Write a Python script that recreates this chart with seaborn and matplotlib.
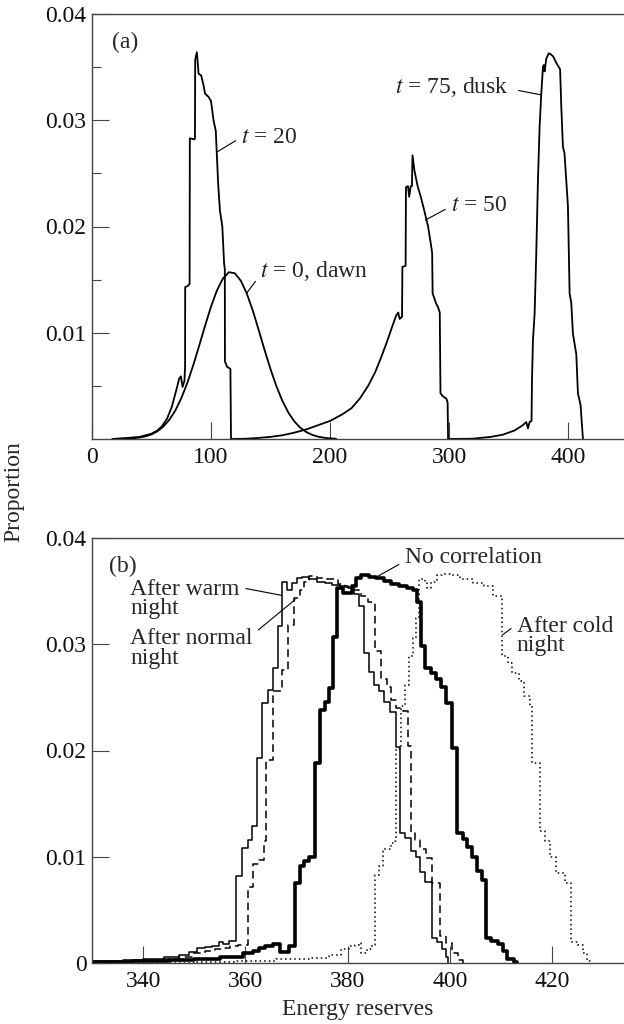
import matplotlib
matplotlib.use("Agg")
import matplotlib.pyplot as plt
import seaborn as sns
import pandas as pd

# ---------------- data: panel (a) ----------------
dawn_x = [20, 25, 30, 35, 40, 45, 50, 55, 60, 65, 70, 75, 80, 85, 90, 95, 100, 105, 110, 115,
          120, 125, 130, 135, 140, 145, 150, 155, 160, 165, 170, 175, 180, 185, 190, 195, 200, 205]
dawn_y = [0.00001, 0.00002, 0.00004, 0.00007, 0.00014, 0.00025, 0.00043, 0.00073, 0.00117, 0.00181,
          0.00268, 0.00383, 0.00525, 0.00692, 0.00876, 0.01066, 0.01246, 0.01399, 0.01510, 0.01570,
          0.01560, 0.01490, 0.01371, 0.01212, 0.01028, 0.00838, 0.00657, 0.00495, 0.00358, 0.00249,
          0.00166, 0.00106, 0.00066, 0.00039, 0.00022, 0.00012, 0.00006, 0.00003]

t20_x = [17, 30, 40, 50, 55, 58.7, 63, 67, 71.3, 73.3, 74.7, 76.1, 77.7, 78.2, 78.3, 80.5, 82.0,
         82.2, 86.2, 86.5, 86.7, 88.1, 89.0, 89.5, 91.8, 93.7, 95.0, 97.9, 100.0, 102.1, 104.0,
         104.8, 106.0, 107.5, 109.5, 111.0, 111.6, 111.7, 113.5, 116.3, 116.8]
t20_y = [0.0, 0.0001, 0.0002, 0.0005, 0.0008, 0.0012, 0.0019, 0.0030, 0.0048, 0.0057, 0.0059,
         0.0049, 0.0055, 0.0068, 0.0143, 0.0144, 0.0146, 0.0283, 0.0282, 0.0283, 0.0357, 0.0364,
         0.0352, 0.0344, 0.0342, 0.0333, 0.0325, 0.0322, 0.0318, 0.0300, 0.0290, 0.0270, 0.0240,
         0.0215, 0.0200, 0.0165, 0.0160, 0.0073, 0.0068, 0.0066, 0.0]

t50_x = [117, 130, 140, 150, 160, 170, 180, 190, 200, 210, 218, 225, 232, 238, 243, 248, 252,
         255.5, 257.3, 258.5, 260.5, 260.8, 263.5, 263.8, 265.5, 266.5, 267.8, 268.8, 269.3, 271.0,
         273.8, 276.0, 278.3, 282.4, 284.5, 285.8, 286.2, 289.0, 290.8, 292.2, 292.8, 295.0, 297.8,
         298.8, 299.2]
t50_y = [0.0, 0.00003, 0.0001, 0.0002, 0.00035, 0.0006, 0.0009, 0.0013, 0.0017, 0.0023, 0.0029,
         0.0038, 0.0050, 0.0063, 0.0077, 0.0092, 0.0105, 0.0116, 0.0119, 0.0113, 0.0115, 0.0162,
         0.0163, 0.0237, 0.0238, 0.0228, 0.0238, 0.0238, 0.0267, 0.0252, 0.0237, 0.0229, 0.0219,
         0.0200, 0.0185, 0.0175, 0.0137, 0.0128, 0.0124, 0.0119, 0.0043, 0.0040, 0.0038, 0.0034, 0.0]

t75_x = [299.2, 320, 335, 345, 355, 362, 364.9, 366.3, 367.7, 369.3, 369.7, 370.5, 371.9, 373.3,
         374.7, 376.1, 377.5, 378.9, 379.6, 380.3, 381.7, 383.8, 385.5, 387.5, 390.1, 393.3, 394.3,
         395.7, 397.0, 399.9, 401.3, 402.7, 404.1, 406.9, 408.3, 410.5, 412.5]
t75_y = [0.0, 0.00003, 0.0002, 0.0004, 0.0008, 0.0013, 0.0016, 0.0010, 0.0016, 0.0017, 0.0056,
         0.0093, 0.0118, 0.0175, 0.0244, 0.0294, 0.0325, 0.0350, 0.0352, 0.0346, 0.0358, 0.0363,
         0.0362, 0.0360, 0.0354, 0.0348, 0.0313, 0.0275, 0.0269, 0.0219, 0.0137, 0.0128, 0.0099,
         0.0080, 0.0043, 0.0032, 0.0]

# ---------------- data: panel (b) (step histograms, left bin edge -> height) ----------------
warm_x = [330, 336, 340, 344, 347, 349, 350.5, 352, 353.5, 354.8, 355.7, 356.8, 358.2, 359.3,
          360.4, 361.3, 362.3, 363.3, 364.4, 365.4, 366.3, 367.2, 368.1, 369.1, 370.0, 371.0,
          372.5, 374.0, 375.5, 377.0, 378.5, 380.0, 381.2, 382.2, 383.2, 384.1, 385.2, 386.2,
          387.1, 388.3, 389.5, 390.2, 391.2, 392.3, 393.3, 394.2, 395.0, 396.5, 397.5, 398.4,
          399.2, 399.6]
warm_y = [0.0002, 0.0003, 0.0004, 0.0006, 0.0008, 0.0010, 0.0014, 0.0015, 0.0016, 0.0020, 0.0018,
          0.0021, 0.0082, 0.0108, 0.0116, 0.0129, 0.0193, 0.0245, 0.0257, 0.0278, 0.0317, 0.0359,
          0.0351, 0.0358, 0.0362, 0.0363, 0.0361, 0.0359, 0.0358, 0.0356, 0.0355, 0.0353, 0.0347,
          0.0336, 0.0292, 0.0274, 0.0262, 0.0256, 0.0246, 0.0236, 0.0203, 0.0122, 0.0118, 0.0105,
          0.0100, 0.0086, 0.0076, 0.0024, 0.0020, 0.0013, 0.0006, 0.0]

normal_x = [330, 338, 343, 347, 349.5, 352, 354, 355.5, 357, 358.5, 360.5, 361.4, 362.6, 363.6,
            364.0, 365.4, 367.2, 368.3, 369.5, 370.6, 371.5, 372.4, 374.0, 376.0, 378.0, 379.5,
            381.0, 382.5, 384.0, 385.3, 386.4, 387.6, 388.5, 389.5, 390.7, 391.8, 392.3, 393.2,
            394.2, 395.3, 396.5, 398.1, 399.3, 400.4, 401.5, 402.5]
normal_y = [0.0001, 0.0002, 0.0004, 0.0006, 0.0009, 0.0011, 0.0013, 0.0014, 0.0016, 0.0017,
            0.0072, 0.0093, 0.0097, 0.0115, 0.0191, 0.0256, 0.0276, 0.0318, 0.0344, 0.0351, 0.0359,
            0.0364, 0.0362, 0.0361, 0.0357, 0.0354, 0.0351, 0.0345, 0.0340, 0.0294, 0.0267, 0.0260,
            0.0248, 0.0240, 0.0237, 0.0204, 0.0122, 0.0116, 0.0107, 0.0099, 0.0075, 0.0025, 0.0019,
            0.0009, 0.0003, 0.0]

nocorr_x = [330, 338, 345, 350, 355, 359.5, 361.5, 362.6, 363.8, 365.3, 366.8, 368.6, 369.6,
            370.6, 371.5, 372.4, 373.5, 374.6, 375.5, 376.3, 377.1, 377.9, 379.0, 380.8, 381.6,
            382.5, 384.2, 385.5, 387.0, 388.5, 390.0, 391.5, 392.7, 393.5, 394.3, 395.0, 396.2,
            397.3, 398.2, 399.2, 400.4, 401.3, 402.5, 403.4, 404.3, 405.2, 406.2, 407.0, 408.0,
            409.3, 410.4, 411.2, 412.4, 413.0]
nocorr_y = [0.0001, 0.0002, 0.0003, 0.0004, 0.0006, 0.0009, 0.0011, 0.0014, 0.0016, 0.0018,
            0.0010, 0.0016, 0.0075, 0.0091, 0.0096, 0.0100, 0.0188, 0.0238, 0.0246, 0.0259, 0.0307,
            0.0353, 0.0348, 0.0355, 0.0362, 0.0365, 0.0363, 0.0362, 0.0360, 0.0357, 0.0355, 0.0353,
            0.0351, 0.0340, 0.0298, 0.0278, 0.0273, 0.0267, 0.0260, 0.0245, 0.0202, 0.0122, 0.0117,
            0.0109, 0.0100, 0.0087, 0.0078, 0.0024, 0.0021, 0.0018, 0.0011, 0.0004, 0.0001, 0.0]

cold_x = [330, 350, 358, 366, 373, 376.3, 378.6, 380.2, 381.4, 382.2, 382.6, 383.7, 384.8, 385.3,
          386.1, 386.8, 388.4, 389.2, 389.5, 390.4, 391.1, 391.9, 392.7, 393.3, 393.9, 395.0, 395.4,
          396.2, 397.4, 398.5, 400.0, 402.0, 404.4, 406.7, 408.3, 410.2, 411.4, 412.2, 413.4, 414.5,
          415.7, 416.1, 417.5, 418.5, 419.6, 420.8, 422.4, 423.7, 425.1, 425.9, 426.7, 427.3]
cold_y = [0.0, 0.0001, 0.0002, 0.0004, 0.0005, 0.0008, 0.0013, 0.0016, 0.0017, 0.0019, 0.0009,
          0.0013, 0.0017, 0.0083, 0.0091, 0.0107, 0.0113, 0.0115, 0.0201, 0.0242, 0.0262, 0.0289,
          0.0306, 0.0325, 0.0361, 0.0359, 0.0353, 0.0359, 0.0365, 0.0366, 0.0365, 0.0361, 0.0358,
          0.0355, 0.0345, 0.0289, 0.0282, 0.0273, 0.0265, 0.0251, 0.0242, 0.0188, 0.0124, 0.0115,
          0.0100, 0.0085, 0.0075, 0.0020, 0.0017, 0.0009, 0.0002, 0.0]

top_xticks = [0, 100, 200, 300, 400]
top_yticks = [0.01, 0.02, 0.03, 0.04]
top_ylabels = ["0.01", "0.02", "0.03", "0.04"]
bot_xticks = [340, 360, 380, 400, 420]
bot_yticks = [0, 0.01, 0.02, 0.03, 0.04]
bot_ylabels = ["0", "0.01", "0.02", "0.03", "0.04"]

# ---------------- style ----------------
sns.set_theme(style="ticks")
plt.rcParams['font.family'] = ['Liberation Serif', 'DejaVu Serif']
plt.rcParams['mathtext.fontset'] = 'stix'
FS = 17
SPINE = '#444444'

fig = plt.figure(figsize=(6.24, 10.24), dpi=100)
fig.patch.set_facecolor('white')
ax1 = fig.add_axes([92/624, 1-439/1024, 532/624, 425/1024])
ax2 = fig.add_axes([92/624, 1-963/1024, 532/624, 425/1024])

def style_axes(ax):
    ax.set_facecolor('white')
    for s in ['left', 'bottom', 'top']:
        ax.spines[s].set_color(SPINE)
        ax.spines[s].set_linewidth(1.0)
    ax.spines['right'].set_visible(False)
    ax.tick_params(axis='both', which='major', direction='in', length=12.5, width=0.8,
                   color=SPINE, labelsize=FS, labelcolor='#111111')
    ax.tick_params(axis='x', pad=6)
    ax.tick_params(axis='y', pad=4)
    ax.tick_params(top=False, right=False)
    ax.grid(False)

# ---- panel (a)
for xs, ys in [(dawn_x, dawn_y), (t20_x, t20_y), (t50_x, t50_y), (t75_x, t75_y)]:
    sns.lineplot(x=xs, y=ys, ax=ax1, color='black', linewidth=1.3, sort=False,
                 estimator=None, legend=False)
ax1.set_xlim(0, 447)
ax1.set_ylim(0, 0.04)
style_axes(ax1)
ax1.set_xticks(top_xticks)
ax1.set_xticklabels([str(v) for v in top_xticks])
ax1.set_yticks(top_yticks)
ax1.set_yticklabels(top_ylabels)
ax1.set_yticks([0.005, 0.015, 0.025, 0.035], minor=True)
ax1.tick_params(axis='y', which='minor', direction='in', length=6.5, width=0.8, color=SPINE)
ax1.set_xlabel('')
ax1.set_ylabel('')

lead = dict(arrowstyle='-', lw=0.8, color='black', shrinkA=2, shrinkB=0)
ax1.text(28, 0.0373, '(a)', fontsize=FS, ha='center', va='center')
ax1.annotate('$t$ = 20', xy=(104.8, 0.0270), xytext=(125.5, 0.0284), fontsize=FS,
             ha='left', va='center', arrowprops=dict(lead, relpos=(0, 0.5)))
ax1.annotate('$t$ = 0, dawn', xy=(129.8, 0.0137), xytext=(141.5, 0.0158), fontsize=FS,
             ha='left', va='center', arrowprops=dict(lead, relpos=(0, 0.35)))
ax1.annotate('$t$ = 50', xy=(280, 0.0206), xytext=(301.7, 0.0220), fontsize=FS,
             ha='left', va='center', arrowprops=dict(lead, relpos=(0, 0.45)))
ax1.annotate('$t$ = 75, dusk', xy=(376.8, 0.0324), xytext=(350, 0.0331), fontsize=FS,
             ha='right', va='center', arrowprops=dict(lead, relpos=(1, 0.45), shrinkA=5))

# ---- panel (b)
curves = [(warm_x, warm_y, 1.1, '-'), (normal_x, normal_y, 1.1, (0, (5, 3))),
          (nocorr_x, nocorr_y, 2.6, '-'), (cold_x, cold_y, 1.1, (0, (1, 2)))]
for xs, ys, lw, ls in curves:
    df = pd.DataFrame({'energy': xs, 'prop': ys})
    sns.lineplot(data=df, x='energy', y='prop', ax=ax2, color='black', linewidth=lw,
                 sort=False, estimator=None, drawstyle='steps-post', legend=False)
    ax2.lines[-1].set_linestyle(ls)
ax2.set_xlim(330, 434)
ax2.set_ylim(0, 0.04)
style_axes(ax2)
ax2.set_xticks(bot_xticks)
ax2.set_xticklabels([str(v) for v in bot_xticks])
ax2.set_yticks(bot_yticks)
ax2.set_yticklabels(bot_ylabels)
ax2.set_ylabel('')
ax2.set_xlabel('Energy reserves', fontsize=FS, labelpad=5)

ax2.text(336.1, 0.0373, '(b)', fontsize=FS, ha='center', va='center')
ax2.annotate('After warm\nnight', xy=(367.1, 0.0346), xytext=(337.5, 0.0343), fontsize=FS,
             ha='left', va='center', linespacing=0.88,
             arrowprops=dict(lead, relpos=(1, 0.78)))
ax2.annotate('After normal\nnight', xy=(369.7, 0.0342), xytext=(337.5, 0.0296), fontsize=FS,
             ha='left', va='center', linespacing=0.88,
             arrowprops=dict(lead, relpos=(1, 0.85)))
ax2.annotate('No correlation', xy=(385.5, 0.0363), xytext=(391.1, 0.0382), fontsize=FS,
             ha='left', va='center', arrowprops=dict(lead, relpos=(0, 0.3)))
ax2.annotate('After cold\nnight', xy=(410.3, 0.0309), xytext=(413.0, 0.0308), fontsize=FS,
             ha='left', va='center', linespacing=0.88,
             arrowprops=dict(lead, relpos=(0, 0.78)))

fig.text(14/624, 1-492/1024, 'Proportion', rotation=90, fontsize=FS, ha='center', va='center')

fig.savefig('out.png', dpi=100, facecolor='white')
